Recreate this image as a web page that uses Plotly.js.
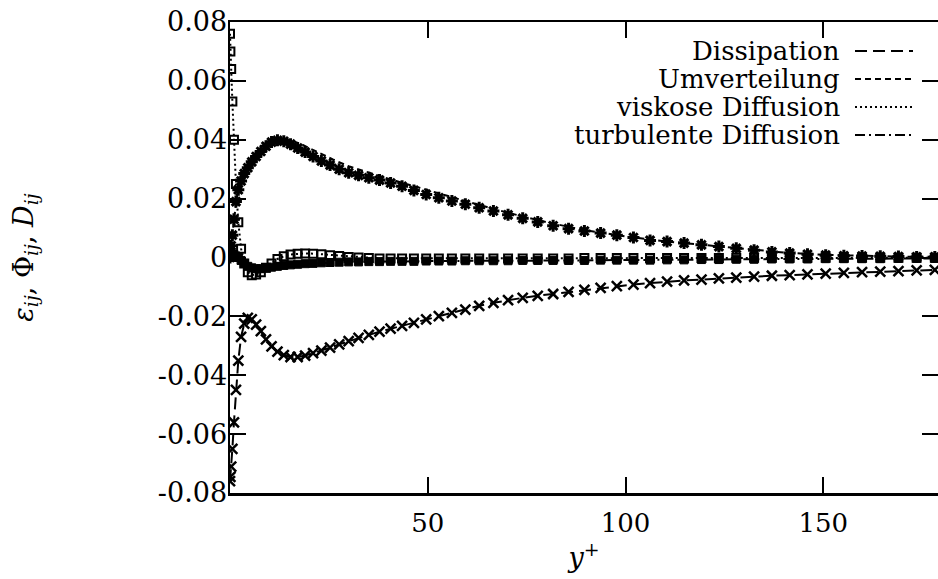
<!DOCTYPE html>
<html>
<head>
<meta charset="utf-8">
<script src="https://cdn.plot.ly/plotly-3.0.1.min.js"></script>
<style>html,body{margin:0;padding:0;background:#fff;}#chart{width:938px;height:579px;}</style>
</head>
<body>
<div id="chart"></div>
<script>
// y+ positions of the DNS points
const xPts = [0, 0.1, 0.3, 0.6, 1.0, 1.5, 2.1, 2.8, 3.6, 4.5, 5.5, 6.6, 7.8, 9.1, 10.5, 12, 13.6, 15.3, 17.1, 19, 21, 23.1, 25.3, 27.6, 30, 32.5, 35.1, 37.8, 40.6, 43.5, 46.5, 49.6, 52.8, 56.1, 59.5, 63, 66.6, 70.3, 74, 77.8, 81.7, 85.6, 89.6, 93.7, 97.8, 102, 106.2, 110.5, 114.8, 119.2, 123.6, 128, 132.5, 137, 141.5, 146, 150.6, 155.2, 159.8, 164.4, 169, 173.6, 178.2];

// Umverteilung (DNS points)
const umvDNS = [0.000, 0.002, 0.004, 0.0076, 0.013, 0.019, 0.023, 0.026, 0.0285, 0.0305, 0.0325, 0.0343, 0.036, 0.0378, 0.0392, 0.0398, 0.0395, 0.0385, 0.0372, 0.0358, 0.0343, 0.0328, 0.0314, 0.0300, 0.0288, 0.0279, 0.0271, 0.0263, 0.0253, 0.0242, 0.0228, 0.0214, 0.0203, 0.0192, 0.0181, 0.0169, 0.0158, 0.0145, 0.0133, 0.0121, 0.0108, 0.0098, 0.0090, 0.0083, 0.0076, 0.0068, 0.0058, 0.0054, 0.0049, 0.0043, 0.0037, 0.0031, 0.0025, 0.0019, 0.0015, 0.0011, 0.0008, 0.0006, 0.0005, 0.0004, 0.0003, 0.0002, 0.0002];

// Dissipation (DNS points)
const dissDNS = [-0.0760, -0.0745, -0.0710, -0.0650, -0.0560, -0.0450, -0.0350, -0.0270, -0.0225, -0.0205, -0.0210, -0.0228, -0.0250, -0.0278, -0.0302, -0.0320, -0.0332, -0.0338, -0.0338, -0.0333, -0.0325, -0.0316, -0.0306, -0.0295, -0.0284, -0.0273, -0.0263, -0.0252, -0.0242, -0.0232, -0.0222, -0.0210, -0.0199, -0.0188, -0.0177, -0.0164, -0.0154, -0.0145, -0.0137, -0.0130, -0.0124, -0.0117, -0.0110, -0.0103, -0.0097, -0.0092, -0.0087, -0.0082, -0.0078, -0.0075, -0.0071, -0.0068, -0.0065, -0.0062, -0.0060, -0.0057, -0.0055, -0.0052, -0.0050, -0.0048, -0.0046, -0.0044, -0.0042];

// viskose Diffusion (DNS points)
const viskDNS = [0.0760, 0.0700, 0.0640, 0.0530, 0.0400, 0.0250, 0.0120, 0.0030, -0.0020, -0.0050, -0.0060, -0.0058, -0.0050, -0.0035, -0.0020, -0.0005, 0.0004, 0.0010, 0.0013, 0.0014, 0.0013, 0.0011, 0.0008, 0.0005, 0.0002, 0.0000, -0.0002, -0.0003, -0.0003, -0.0003, -0.0003, -0.0003, -0.0003, -0.0003, -0.0003, -0.0003, -0.0003, -0.0003, -0.0003, -0.0003, -0.0003, -0.0003, -0.0002, -0.0002, -0.0002, -0.0002, -0.0002, -0.0002, -0.0002, -0.0002, -0.0002, -0.0001, -0.0001, -0.0001, -0.0001, -0.0001, -0.0001, -0.0001, -0.0001, -0.0001, -0.0001, -0.0001, -0.0001];

// turbulente Diffusion (DNS points)
const turbDNS = [0.0000, 0.0000, 0.0005, 0.0010, 0.0010, 0.0005, 0.0000, -0.0010, -0.0020, -0.0030, -0.0035, -0.0038, -0.0038, -0.0036, -0.0033, -0.0030, -0.0027, -0.0025, -0.0023, -0.0021, -0.0020, -0.0018, -0.0017, -0.0016, -0.0015, -0.0015, -0.0014, -0.0014, -0.0013, -0.0013, -0.0013, -0.0012, -0.0012, -0.0012, -0.0011, -0.0011, -0.0011, -0.0011, -0.0010, -0.0010, -0.0010, -0.0010, -0.0010, -0.0009, -0.0009, -0.0009, -0.0009, -0.0008, -0.0008, -0.0007, -0.0007, -0.0006, -0.0006, -0.0005, -0.0005, -0.0005, -0.0004, -0.0004, -0.0004, -0.0004, -0.0003, -0.0003, -0.0003];

// Umverteilung model line
const xModel = [0, 0.5, 1, 2, 3, 4, 5, 6, 8, 10, 12, 14, 16, 18, 20, 23, 26, 30, 35, 40, 45, 50, 60, 70, 80, 90, 100, 110, 120, 130, 140, 150, 160, 170, 179];
const umvModel = [0, 0.007, 0.013, 0.0225, 0.027, 0.0297, 0.0318, 0.0337, 0.0365, 0.0388, 0.0401, 0.0402, 0.0395, 0.0385, 0.0372, 0.0352, 0.0333, 0.0310, 0.0288, 0.0268, 0.0248, 0.0228, 0.0190, 0.0153, 0.0120, 0.0092, 0.0072, 0.0055, 0.0042, 0.0029, 0.0017, 0.0009, 0.0005, 0.0003, 0.0002];

const legendNames = ["Dissipation", "Umverteilung", "viskose Diffusion", "turbulente Diffusion"];
const legendDash = ["12px,6px", "6px,4px", "2px,3px", "10px,4px,2px,4px"];

const yTickVals = [-0.08, -0.06, -0.04, -0.02, 0, 0.02, 0.04, 0.06, 0.08];
const yTickText = ["-0.08", "-0.06", "-0.04", "-0.02", "0", "0.02", "0.04", "0.06", "0.08"];
const xTickVals = [50, 100, 150];
const xTickText = ["50", "100", "150"];

const FONT = "DejaVu Serif, Liberation Serif, serif";
const black = "#000";

const traces = [
  {x: xModel, y: umvModel, mode: "lines", line: {color: black, width: 2, dash: legendDash[1]}, showlegend: false},
  {x: xPts, y: dissDNS, mode: "lines", line: {color: black, width: 2, dash: legendDash[0]}, showlegend: false},
  {x: xPts, y: viskDNS, mode: "lines", line: {color: black, width: 2, dash: legendDash[2]}, showlegend: false},
  {x: xPts, y: turbDNS, mode: "lines", line: {color: black, width: 2, dash: legendDash[3]}, showlegend: false},
  {x: xPts, y: umvDNS, mode: "markers", marker: {symbol: "asterisk-open", size: 10, color: black, line: {color: black, width: 3}}, showlegend: false},
  {x: xPts, y: dissDNS, mode: "markers", marker: {symbol: "x-thin-open", size: 10, color: black, line: {color: black, width: 2.5}}, showlegend: false},
  {x: xPts, y: turbDNS, mode: "markers", marker: {symbol: "square", size: 8, color: black, line: {color: black, width: 1}}, showlegend: false},
  {x: xPts, y: viskDNS, mode: "markers", marker: {symbol: "square-open", size: 8, color: black, line: {color: black, width: 2}}, showlegend: false}
];

// plot area in pixels: left 230, right 938, top 22, bottom 493
const L = 230, R = 938, T = 22, B = 493;
const px = v => (v - L) / (R - L);
const py = v => (B - v) / (B - T);

const legendRowsY = [51, 79, 107, 135];
const annotations = [];
const shapes = [];
legendNames.forEach((name, i) => {
  annotations.push({xref: "paper", yref: "paper", x: px(842), y: py(legendRowsY[i]), xanchor: "right", yanchor: "middle",
    text: name, showarrow: false, font: {family: FONT, size: 26, color: black}});
  shapes.push({type: "line", xref: "paper", yref: "paper", x0: px(855), x1: px(913), y0: py(legendRowsY[i]), y1: py(legendRowsY[i]),
    line: {color: black, width: 2, dash: legendDash[i]}});
});

const layout = {
  width: 938, height: 579,
  margin: {l: L, r: 938 - R, t: T, b: 579 - B, pad: 0},
  paper_bgcolor: "#fff", plot_bgcolor: "#fff",
  showlegend: false,
  font: {family: FONT, size: 26, color: black},
  xaxis: {
    range: [0, 179], showgrid: false, zeroline: false,
    showline: true, linecolor: black, linewidth: 2.5, mirror: "ticks",
    ticks: "inside", ticklen: 16, tickwidth: 2, tickcolor: black,
    tickvals: xTickVals, ticktext: xTickText, tickfont: {family: FONT, size: 26, color: black},
    ticklabelstandoff: 5,
    title: {text: "<i>y</i><sup>+</sup>", font: {family: FONT, size: 27, color: black}, standoff: 12}
  },
  yaxis: {
    range: [-0.08, 0.08], showgrid: false, zeroline: false,
    showline: true, linecolor: black, linewidth: 2.5, mirror: "ticks",
    ticks: "inside", ticklen: 16, tickwidth: 2, tickcolor: black,
    tickvals: yTickVals, ticktext: yTickText, tickfont: {family: FONT, size: 27, color: black},
    ticklabelstandoff: -5,
    title: {text: "<i>ε</i><sub><i>ij</i></sub>, Φ<sub><i>ij</i></sub>, <i>D</i><sub><i>ij</i></sub>", font: {family: FONT, size: 27, color: black}, standoff: 117}
  },
  annotations: annotations,
  shapes: shapes
};

Plotly.newPlot("chart", traces, layout, {staticPlot: true, displayModeBar: false});
</script>
</body>
</html>
